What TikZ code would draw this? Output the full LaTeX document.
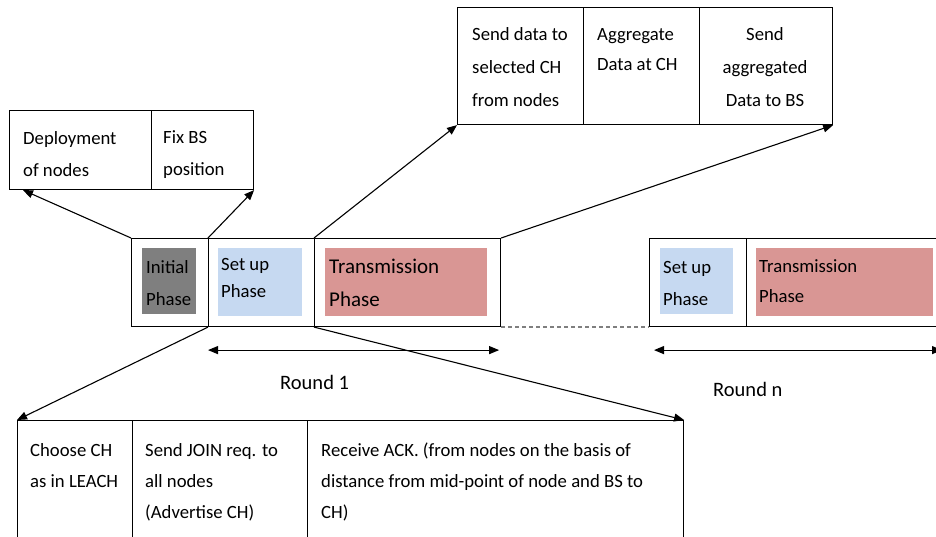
\documentclass[tikz,border=0pt]{standalone}
\usepackage{fontspec}
\setmainfont{Carlito}
\usetikzlibrary{arrows.meta}
\definecolor{greyfill}{HTML}{7F7F7F}
\definecolor{bluefill}{HTML}{C6D9F1}
\definecolor{redfill}{HTML}{D99694}
\definecolor{dashgrey}{HTML}{7F7F7F}
\begin{document}
\begin{tikzpicture}[x=1pt,y=-1pt,
  cell/.style={draw, line width=1.1pt, inner sep=0pt, anchor=north west},
  patch/.style={fill=#1, inner sep=0pt, anchor=north west},
  txt/.style={anchor=base west, inner sep=0pt, align=left, font=\fontsize{18.7}{#1}\selectfont},
  txt/.default=32,
  arr/.style={-{Triangle[length=10pt,width=8pt]}, line width=1.1pt},
  darr/.style={{Triangle[length=10pt,width=8pt]}-{Triangle[length=10pt,width=8pt]}, line width=1.1pt}]
\useasboundingbox (0,0) rectangle (936,537);
% top-left box
\node[cell, minimum width=142pt, minimum height=79pt] (tlA) at (9,110) {};
\node[cell, minimum width=102pt, minimum height=79pt] (tlB) at (151,110) {};
% top-right box
\node[cell, minimum width=126pt, minimum height=117pt] (trA) at (457,7) {};
\node[cell, minimum width=116pt, minimum height=117pt] (trB) at (583,7) {};
\node[cell, minimum width=133pt, minimum height=117pt] (trC) at (699,7) {};
% round 1 row
\node[cell, minimum width=77pt, minimum height=88pt] (r1A) at (131,238) {};
\node[cell, minimum width=106pt, minimum height=88pt] (r1B) at (208,238) {};
\node[cell, minimum width=186pt, minimum height=88pt] (r1C) at (314,238) {};
% round n row
\node[cell, minimum width=97pt, minimum height=88pt] (rnA) at (649,238) {};
\node[cell, minimum width=200pt, minimum height=88pt] (rnB) at (746,238) {};
% bottom box (open at the bottom edge)
\node[cell, minimum width=115pt, minimum height=130pt] (bA) at (17,420) {};
\node[cell, minimum width=175pt, minimum height=130pt] (bB) at (132,420) {};
\node[cell, minimum width=376pt, minimum height=130pt] (bC) at (307,420) {};
% coloured patches
\node[patch=greyfill, minimum width=54pt, minimum height=66pt] (f1) at (142,248) {};
\node[patch=bluefill, minimum width=84pt, minimum height=68pt] (f2) at (218,248) {};
\node[patch=redfill, minimum width=162pt, minimum height=68pt] (f3) at (325,248) {};
\node[patch=bluefill, minimum width=73pt, minimum height=66pt] (f4) at (660,248) {};
\node[patch=redfill, minimum width=177pt, minimum height=68pt] (f5) at (756,248) {};
% texts (anchored at the baseline of their last line)
\node[txt] (t1) at (23,177) {Deployment\\of nodes};
\node[txt] (t2) at (163,176) {Fix BS\\position};
\node[txt=33] (t3) at (472,107) {Send data to\\selected CH\\from nodes};
\node[txt=30] (t4) at (597,71) {Aggregate\\Data at CH};
\node[txt=33, align=center, anchor=base] (t5) at (765,107) {Send\\aggregated\\Data to BS};
\node[txt] (t6) at (146,305) {Initial\\Phase};
\node[txt=27] (t7) at (221,297) {Set up\\Phase};
\node[txt, font=\fontsize{21}{33}\selectfont] (t8) at (329,306) {Transmission\\Phase};
\node[txt] (t9) at (663,305) {Set up\\Phase};
\node[txt=30] (t10) at (759,302) {Transmission\\Phase};
\node[txt, font=\fontsize{20.5}{24}\selectfont] (t11) at (280,389) {Round 1};
\node[txt, font=\fontsize{20.5}{24}\selectfont] (t12) at (713,396) {Round n};
\node[txt=31] (t13) at (30,487) {Choose CH\\as in LEACH};
\node[txt=31] (t14) at (145,518) {Send JOIN req. to\\all nodes\\(Advertise CH)};
\node[txt=31] (t15) at (321,518) {Receive ACK. (from nodes on the basis of\\distance from mid-point of node and BS to\\CH)};
% connectors
\draw[arr] (r1A.north west) -- ([xshift=14pt]tlA.south west);
\draw[arr] (r1B.north west) -- (tlB.south east);
\draw[arr] (r1C.north west) -- (trA.south west);
\draw[arr] (r1C.north east) -- (trC.south east);
\draw[arr] (r1B.south west) -- (bA.north west);
\draw[arr] (r1C.south west) -- (bC.north east);
\draw[darr] ([yshift=-23pt]r1B.south west) -- ([xshift=-2pt,yshift=-23pt]r1C.south east);
\draw[darr] ([xshift=5pt,yshift=-23pt]rnA.south west) -- ([xshift=196pt,yshift=-23pt]rnB.south west);
\draw[dashgrey, line width=2pt, dash pattern=on 4pt off 3pt] (r1C.south east) -- (rnA.south west);
\end{tikzpicture}
\end{document}
